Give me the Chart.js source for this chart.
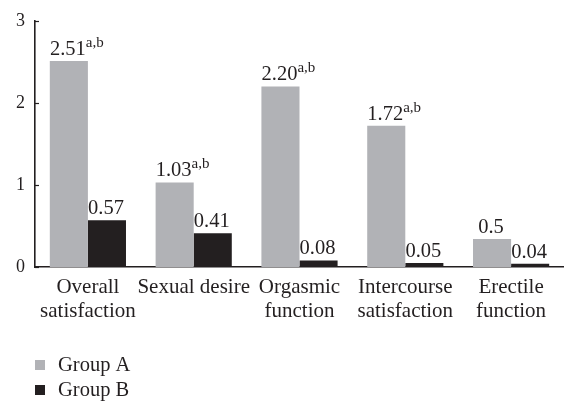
<!DOCTYPE html>
<html>
<head>
<meta charset="utf-8">
<script src="https://cdn.jsdelivr.net/npm/chart.js@4"></script>
<style>
  html, body { margin: 0; padding: 0; background: #fff; }
  #wrap { width: 564px; height: 402px; }
</style>
</head>
<body>
<div id="wrap"><canvas id="chart"></canvas></div>
<script>
const categories = [
    ['Overall', 'satisfaction'],
    'Sexual desire',
    ['Orgasmic', 'function'],
    ['Intercourse', 'satisfaction'],
    ['Erectile', 'function']
];
const groupA = [2.51, 1.03, 2.20, 1.72, 0.34];
const groupB = [0.57, 0.41, 0.08, 0.05, 0.04];
// printed labels (the last grey bar is drawn lower than its printed value)
const labelsA = ['2.51', '1.03', '2.20', '1.72', '0.5'];
const labelsB = ['0.57', '0.41', '0.08', '0.05', '0.04'];
const supA = ['a,b', 'a,b', 'a,b', 'a,b', ''];
const supB = ['', '', '', '', ''];
const yTicks = [0, 1, 2, 3];

const ink = '#231f20';
const serif = "'Liberation Serif', 'DejaVu Serif', serif";

const barLabels = {
    id: 'barLabels',
    afterDatasetsDraw(chart) {
        const ctx = chart.ctx;
        const sets = [[labelsA, supA], [labelsB, supB]];
        ctx.save();
        ctx.fillStyle = ink;
        chart.data.datasets.forEach((ds, i) => {
            const meta = chart.getDatasetMeta(i);
            meta.data.forEach((bar, j) => {
                const txt = sets[i][0][j], sup = sets[i][1][j];
                const y = bar.y - 6;
                ctx.font = '20.5px ' + serif;
                ctx.textAlign = 'center';
                ctx.textBaseline = 'alphabetic';
                ctx.fillText(txt, bar.x - 1, y);
                if (sup) {
                    const w = ctx.measureText(txt).width;
                    ctx.font = '15px ' + serif;
                    ctx.textAlign = 'left';
                    ctx.fillText(sup, bar.x - 1 + w / 2, y - 8);
                }
            });
        });
        ctx.restore();
    }
};

const axisTicks = {
    id: 'axisTicks',
    afterDraw(chart) {
        const ctx = chart.ctx, y = chart.scales.y, left = chart.chartArea.left;
        ctx.save();
        ctx.strokeStyle = ink;
        ctx.lineWidth = 1.2;
        yTicks.forEach(v => {
            const py = Math.round(y.getPixelForValue(v)) + 0.5;
            ctx.beginPath();
            ctx.moveTo(left, py);
            ctx.lineTo(left + 4, py);
            ctx.stroke();
        });
        ctx.restore();
    }
};

const boxLegend = {
    id: 'boxLegend',
    afterDraw(chart) {
        const ctx = chart.ctx;
        ctx.save();
        ctx.font = '20.5px ' + serif;
        ctx.textBaseline = 'middle';
        ctx.textAlign = 'left';
        chart.data.datasets.forEach((ds, i) => {
            const cy = 365 + i * 25;
            ctx.fillStyle = ds.backgroundColor;
            ctx.fillRect(35, cy - 5, 10, 10);
            ctx.fillStyle = ink;
            ctx.fillText(ds.label, 58, cy + 1);
        });
        ctx.restore();
    }
};

new Chart(document.getElementById('chart'), {
    type: 'bar',
    data: {
        labels: categories,
        datasets: [
            { label: 'Group A', data: groupA, backgroundColor: '#b1b2b6' },
            { label: 'Group B', data: groupB, backgroundColor: '#231f20' }
        ]
    },
    options: {
        responsive: true,
        maintainAspectRatio: false,
        animation: false,
        layout: { padding: { top: 15, right: 0, bottom: 72, left: 0 } },
        datasets: {
            bar: { categoryPercentage: 0.72, barPercentage: 1 }
        },
        plugins: {
            legend: { display: false },
            tooltip: { enabled: false }
        },
        scales: {
            x: {
                grid: { display: false, drawTicks: false },
                border: { display: true, color: ink, width: 1.6 },
                ticks: {
                    color: ink,
                    font: { family: serif, size: 21, lineHeight: 1.12 },
                    padding: 9,
                    maxRotation: 0,
                    autoSkip: false
                },
                afterFit(scale) { scale.height = 63; }
            },
            y: {
                min: 0,
                max: 3,
                grid: { display: false, drawTicks: false },
                border: { display: true, color: ink, width: 1.6 },
                ticks: {
                    color: ink,
                    stepSize: 1,
                    font: { family: serif, size: 18 },
                    padding: 10
                },
                afterFit(scale) { scale.width = 35; }
            }
        }
    },
    plugins: [barLabels, axisTicks, boxLegend]
});
</script>
</body>
</html>
